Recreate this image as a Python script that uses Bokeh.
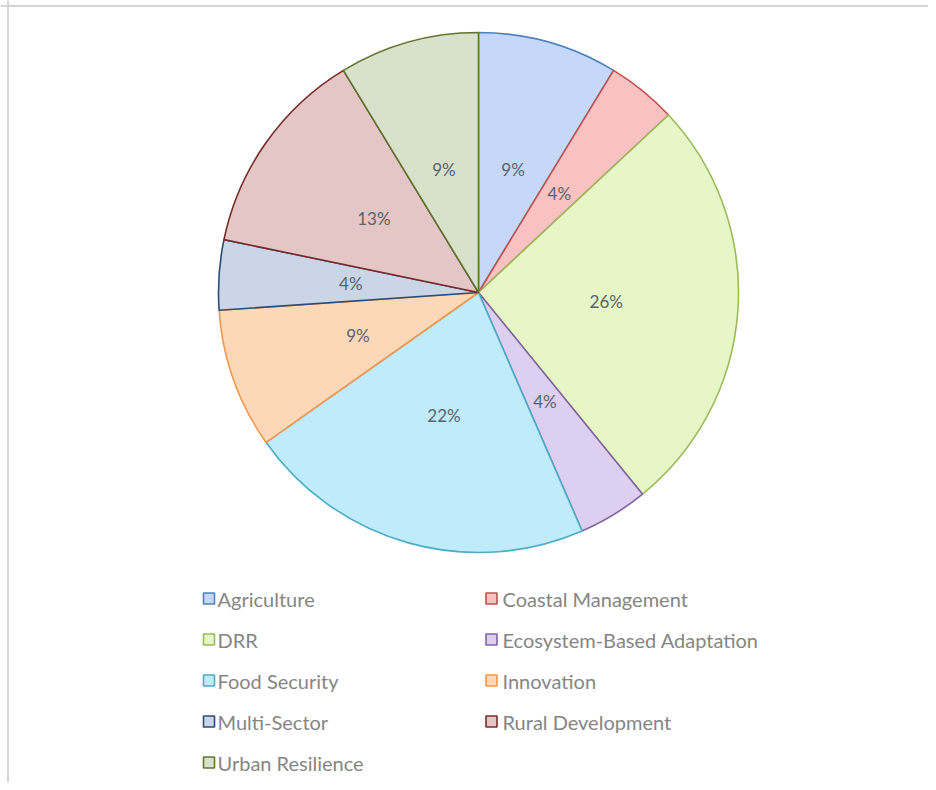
import math
from bokeh.plotting import figure
from bokeh.models import Range1d, ColumnDataSource, Span
from bokeh.core.properties import value
from bokeh.embed import file_html
from bokeh.resources import INLINE

# ---- data ----
categories = ["Agriculture", "Coastal Management", "DRR", "Ecosystem-Based Adaptation",
              "Food Security", "Innovation", "Multi-Sector", "Rural Development",
              "Urban Resilience"]
counts = [2, 1, 6, 1, 5, 2, 1, 3, 2]
fill_colors = ["#c6d8f8", "#f9c2c2", "#e6f6c6", "#ddcff0", "#bfebfa",
               "#fdd8b8", "#cbd5e8", "#e4c6c6", "#d8e1ca"]
line_colors = ["#4f81bd", "#c0504d", "#9bbb59", "#8064a2", "#4bacc6",
               "#f79646", "#2c4d75", "#772c2a", "#5f7530"]

# ---- layout (data units == screen pixels, y measured up from bottom) ----
W, H = 928, 782
CX, CY, R = 478, H - 292, 260
LABEL_R = 128
LEG_COL_MARK = [208.5, 491]
LEG_COL_TEXT = [217, 502]
LEG_TOP, LEG_STEP = H - 598, 41

total = sum(counts)
starts, ends, lx, ly, labels = [], [], [], [], []
cum = 0
for c in counts:
    a0 = math.pi / 2 - 2 * math.pi * cum / total
    cum += c
    a1 = math.pi / 2 - 2 * math.pi * cum / total
    starts.append(a1)
    ends.append(a0)
    mid = (a0 + a1) / 2
    lx.append(CX + LABEL_R * math.cos(mid))
    ly.append(CY + LABEL_R * math.sin(mid))
    labels.append(f"{round(100 * c / total)}%")

src = ColumnDataSource(dict(cat=categories, start=starts, end=ends,
                            fill=fill_colors, line=line_colors,
                            lx=lx, ly=ly, label=labels))

p = figure(width=W, height=H, output_backend="svg", toolbar_location=None,
           x_range=Range1d(0, W), y_range=Range1d(0, H), min_border=0,
           x_axis_location=None, y_axis_location=None)
p.grid.visible = False
p.outline_line_color = None
p.background_fill_color = "white"
p.border_fill_color = "white"

p.wedge(x=CX, y=CY, radius=R, start_angle="start", end_angle="end",
        fill_color="fill", line_color="line", line_width=1.6, source=src)

p.text(x="lx", y="ly", text="label", source=src, text_align="center",
       text_baseline="middle", text_font=value("Lato"), text_font_size="17px",
       text_color="#596368")

# legend (manual, two columns)
mx, my, tx = [], [], []
for i in range(len(categories)):
    col, row = i % 2, i // 2
    mx.append(LEG_COL_MARK[col])
    tx.append(LEG_COL_TEXT[col])
    my.append(LEG_TOP - LEG_STEP * row)
leg = ColumnDataSource(dict(mx=mx, my=my, tx=tx, cat=categories,
                            fill=fill_colors, line=line_colors))
p.rect(x="mx", y="my", width=11, height=11, fill_color="fill", line_color="line",
       line_width=1.6, source=leg)
p.text(x="tx", y="my", text="cat", source=leg, text_align="left",
       text_baseline="middle", text_font=value("Lato"), text_font_size="20px",
       text_color="#858585")

# frame edges (top and left)
p.add_layout(Span(location=H - 5.5, dimension="width", line_color="#d4d4d4", line_width=2))
p.add_layout(Span(location=7.5, dimension="height", line_color="#d4d4d4", line_width=2))

open("out.html", "w").write(file_html(p, INLINE))
